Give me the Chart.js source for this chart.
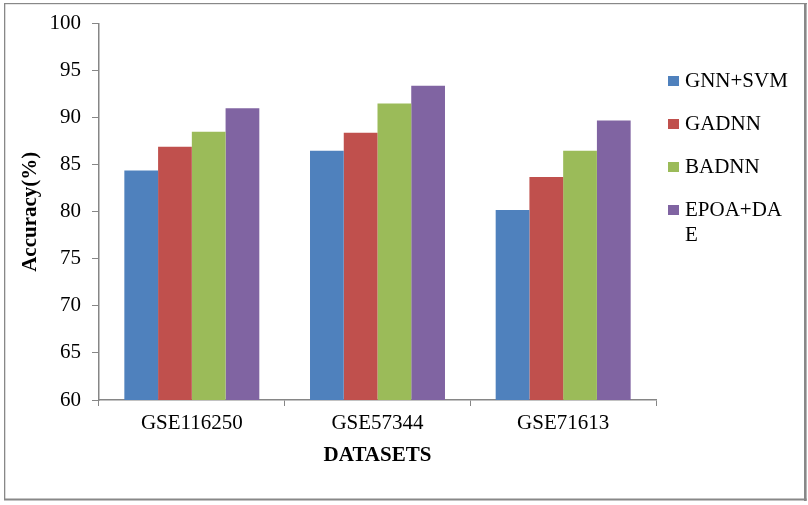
<!DOCTYPE html>
<html>
<head>
<meta charset="utf-8">
<script src="https://cdn.jsdelivr.net/npm/chart.js@4/dist/chart.umd.min.js"></script>
<style>
  html, body { margin: 0; padding: 0; background: #ffffff; }
  canvas { display: block; }
</style>
</head>
<body>
<canvas id="c" width="808" height="505"></canvas>
<script>
const categories = ['GSE116250', 'GSE57344', 'GSE71613'];
const seriesNames = ['GNN+SVM', 'GADNN', 'BADNN', 'EPOA+DAE'];
const gnnSvm = [84.4, 86.5, 80.2];
const gadnn = [86.9, 88.4, 83.7];
const badnn = [88.5, 91.5, 86.5];
const epoaDae = [91.0, 93.4, 89.7];
const yTicks = [60, 65, 70, 75, 80, 85, 90, 95, 100];
const xTitle = 'DATASETS';
const yTitle = 'Accuracy(%)';

const colors = ['#4F81BD', '#C0504D', '#9BBB59', '#8064A2'];
const seriesValues = [gnnSvm, gadnn, badnn, epoaDae];
const FONT = '"Liberation Serif", "Times New Roman", serif';
const AXIS = '#868686';

const frame = {
  id: 'frame',
  beforeDraw(chart) {
    const ctx = chart.ctx;
    ctx.save();
    ctx.fillStyle = '#ffffff';
    ctx.fillRect(0, 0, chart.width, chart.height);
    ctx.fillStyle = '#888888';
    ctx.fillRect(4, 3, 1.3, 497);
    ctx.fillRect(4, 3, 803, 1.2);
    ctx.fillRect(804, 3, 2.6, 498);
    ctx.fillRect(4, 498.5, 802.6, 2);
    ctx.restore();
  }
};

const customLegend = {
  id: 'customLegend',
  afterDraw(chart) {
    const ctx = chart.ctx;
    ctx.save();
    ctx.font = '21px ' + FONT;
    ctx.textBaseline = 'middle';
    ctx.textAlign = 'left';
    const boxX = 668, textX = 685, startY = 81, step = 43, lineH = 25.5, maxW = 106;
    let y = startY;
    chart.data.datasets.forEach((ds) => {
      // char-level wrap
      const lines = [];
      let cur = '';
      for (const ch of ds.label) {
        if (ctx.measureText(cur + ch).width > maxW && cur) { lines.push(cur); cur = ch; }
        else cur += ch;
      }
      lines.push(cur);
      ctx.fillStyle = ds.backgroundColor;
      ctx.fillRect(boxX, y - 5, 11, 10);
      ctx.fillStyle = '#000000';
      lines.forEach((l, i) => ctx.fillText(l, textX, y + i * lineH));
      y += step;
    });
    ctx.restore();
  }
};

new Chart(document.getElementById('c'), {
  type: 'bar',
  data: {
    labels: categories,
    datasets: seriesNames.map((name, i) => ({
      label: name,
      data: seriesValues[i],
      backgroundColor: colors[i],
      borderWidth: 0,
      categoryPercentage: 0.727,
      barPercentage: 1.0
    }))
  },
  options: {
    responsive: false,
    animation: false,
    layout: { padding: { left: 5, right: 152, top: 22, bottom: 6 } },
    plugins: {
      legend: { display: false },
      tooltip: { enabled: false }
    },
    scales: {
      x: {
        offset: true,
        grid: {
          offset: true,
          drawOnChartArea: false,
          drawTicks: true,
          tickLength: 6,
          color: AXIS,
          lineWidth: 1
        },
        border: { display: true, color: AXIS, width: 1.5 },
        ticks: { color: '#000000', font: { family: FONT, size: 21 }, padding: 5, maxRotation: 0 },
        title: {
          display: true,
          text: xTitle,
          color: '#000000',
          font: { family: FONT, size: 21, weight: 'bold' },
          padding: { top: 0, bottom: 31 }
        },
        afterFit(scale) { scale.height = 99; }
      },
      y: {
        min: 60,
        max: 100,
        afterBuildTicks(scale) { scale.ticks = yTicks.map(v => ({ value: v })); },
        grid: {
          drawOnChartArea: false,
          drawTicks: true,
          tickLength: 7,
          color: AXIS,
          lineWidth: 1
        },
        border: { display: true, color: AXIS, width: 1.5 },
        ticks: { color: '#000000', font: { family: FONT, size: 21 }, padding: 11 },
        title: {
          display: true,
          text: yTitle,
          color: '#000000',
          font: { family: FONT, size: 21, weight: 'bold' },
          padding: { top: 13, bottom: 0 }
        },
        afterFit(scale) { scale.width = 94; }
      }
    }
  },
  plugins: [frame, customLegend]
});
</script>
</body>
</html>
